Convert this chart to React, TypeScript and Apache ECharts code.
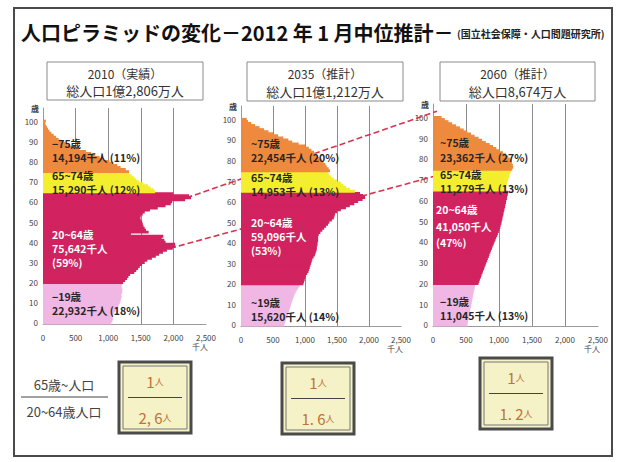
import React, { useEffect, useRef } from "react";
import * as echarts from "echarts";

// ---------- data ----------
const AGES: string[] = Array.from({ length: 107 }, (_, i) => String(i));
const X_TICKS = [0, 500, 1000, 1500, 2000, 2500];

// population by single age (thousand persons), ages 0..100
const POP_2010 = [
  1046, 1063, 1071, 1071, 1063, 1086, 1110, 1129, 1151, 1163, 1177, 1189, 1196, 1206, 1196, 1213, 1215, 1216, 1203, 1213,
  1230, 1260, 1290, 1310, 1336, 1400, 1430, 1460, 1485, 1519, 1560, 1600, 1670, 1730, 1781, 1840, 1900, 1990, 2030, 2026,
  1880, 1860, 1820, 1845, 1349, 1620, 1580, 1560, 1540, 1530, 1520, 1500, 1490, 1500, 1530, 1560, 1640, 1760, 1880, 1960,
  1980, 2180, 2270, 2240, 2000,
  1720, 1700, 1650, 1610, 1540, 1470, 1430, 1400, 1360, 1320,
  1320, 1270, 1190, 1140, 1081, 1020, 930, 870, 800, 736, 660, 560, 480, 410, 343, 290, 240, 200, 165, 129, 100, 78, 60, 42, 30, 44,
];
const POP_2035 = [
  675, 684, 696, 705, 718, 729, 741, 750, 762, 773, 781, 793, 802, 813, 825, 838, 854, 871, 892, 917,
  975, 985, 995, 1005, 1015, 1035, 1055, 1065, 1075, 1085, 1095, 1105, 1115, 1135, 1155, 1165, 1175, 1185, 1185, 1195,
  1195, 1205, 1205, 1205, 1215, 1240, 1270, 1300, 1330, 1360, 1380, 1420, 1450, 1460, 1470, 1500, 1560, 1640, 1700, 1770,
  1830, 1900, 1940, 1910, 1860,
  1780, 1700, 1640, 1600, 1560, 1500, 1450, 1410, 1380, 1360,
  1390, 1370, 1340, 1320, 1290, 1260, 1230, 1200, 1170, 1140, 1100, 1060, 1000, 900, 800, 740, 660, 580, 500, 430, 360, 290, 220, 160, 110, 90,
];
const POP_2060 = [
  520, 526, 531, 539, 544, 550, 557, 562, 568, 575, 580, 586, 593, 598, 604, 611, 617, 625, 632, 640,
  690, 702, 711, 725, 735, 749, 758, 774, 783, 797, 806, 821, 831, 846, 855, 869, 879, 894, 905, 920,
  931, 946, 957, 972, 983, 998, 1006, 1019, 1026, 1036, 1041, 1050, 1055, 1064, 1069, 1078, 1083, 1092, 1097, 1106,
  1110, 1120, 1124, 1134, 1140,
  1105, 1110, 1112, 1120, 1125, 1138, 1146, 1158, 1166, 1180,
  1200, 1215, 1210, 1195, 1180, 1165, 1140, 1105, 1060, 1010, 960, 910, 860, 800, 745, 690, 630, 575, 520, 465, 410, 350, 290, 235, 180, 130,
];

const YEAR_TITLES = ["2010（実績）", "2035（推計）", "2060（推計）"];
const TOTAL_TITLES = ["総人口1億2,806万人", "総人口1億1,212万人", "総人口8,674万人"];

// groups: 75+, 65-74, 20-64, 0-19
const GROUP_NAMES_2010 = ["−75歳", "65~74歳", "20~64歳", "−19歳"];
const GROUP_NAMES_2035 = ["~75歳", "65~74歳", "20~64歳", "~19歳"];
const GROUP_NAMES_2060 = ["~75歳", "65~74歳", "20~64歳", "−19歳"];
const GROUP_TOTALS_2010 = [14194, 15290, 75642, 22932];
const GROUP_TOTALS_2035 = [22454, 14953, 59096, 15620];
const GROUP_TOTALS_2060 = [23362, 11279, 41050, 11045];
const GROUP_SHARES_2010 = [11, 12, 59, 18];
const GROUP_SHARES_2035 = [20, 13, 53, 14];
const GROUP_SHARES_2060 = [27, 13, 47, 13];

const RATIO_NUMERATOR = ["1", "1", "1"];
const RATIO_DENOMINATOR = ["2, 6", "1. 6", "1. 2"];

// cohort connectors: [population, age] in first panel -> [population, age] in last panel
const COHORT_FROM = [[2200, 62], [1950, 37]];
const COHORT_TO = [[60, 103], [60, 72]];

// ---------- styles / layout ----------
const FONT = '"Noto Sans CJK JP", "Noto Sans", sans-serif';
const C_OLD2 = "#ee8a3e";
const C_OLD1 = "#f3ee2e";
const C_WORK = "#d1235f";
const C_YOUNG = "#f0b6e4";

const GRIDS = [
  { left: 43, top: 108, width: 163, height: 216 },
  { left: 241, top: 106, width: 160, height: 220 },
  { left: 433, top: 104, width: 165, height: 222 },
];

const colorFor = (age: number) => (age >= 75 ? C_OLD2 : age >= 65 ? C_OLD1 : age >= 20 ? C_WORK : C_YOUNG);
const fmt = (v: number) => v.toLocaleString("en-US");

const TEXT_POS = [
  { x: [52, 52, 52, 52], y: [143, 157, 175, 189, 234, 248, 262, 296, 310] },
  { x: [251, 251, 251, 251], y: [143, 157, 177, 191, 222, 236, 250, 302, 316] },
  { x: [440, 440, 436, 440], y: [142, 157, 174, 188, 209, 226, 242, 301, 315] },
];
const TITLE_BOXES = [
  { x: 47, y: 62, w: 156, h: 38 },
  { x: 247, y: 62, w: 156, h: 39 },
  { x: 440, y: 62, w: 155, h: 39 },
];
const RATIO_BOXES = [
  { x: 119, y: 362, w: 72, h: 71 },
  { x: 282, y: 363, w: 72, h: 71 },
  { x: 480, y: 358, w: 72, h: 71 },
];

function txt(x: number, y: number, text: string, opts: any = {}) {
  return {
    type: "text",
    x,
    y,
    z: 20,
    silent: true,
    style: {
      text,
      font: `${opts.weight || "bold"} ${opts.size || 10.5}px ${FONT}`,
      fill: opts.color || "#262626",
      align: opts.align || "left",
      verticalAlign: "middle",
    },
  };
}

function buildStaticGraphics() {
  const g: any[] = [];
  // outer frame
  g.push({ type: "rect", z: 0, silent: true, shape: { x: 14, y: 8, width: 598, height: 448 }, style: { fill: "none", stroke: "#4a4a4a", lineWidth: 2 } });
  // title
  g.push(txt(21, 32, "人口ピラミッドの変化－2012 年 1 月中位推計－", { size: 20, color: "#111" }));
  g.push(txt(457, 33, "(国立社会保障・人口問題研究所)", { size: 10, color: "#222" }));

  // panel title boxes
  TITLE_BOXES.forEach((b, i) => {
    g.push({ type: "rect", z: 5, silent: true, shape: { x: b.x, y: b.y, width: b.w, height: b.h }, style: { fill: "#fff", stroke: "#8a8a8a", lineWidth: 1 } });
    g.push(txt(b.x + b.w / 2, b.y + 11, YEAR_TITLES[i], { weight: "normal", size: 12, color: "#333", align: "center" }));
    g.push(txt(b.x + b.w / 2, b.y + b.h - 10, TOTAL_TITLES[i], { weight: "normal", size: 13, color: "#333", align: "center" }));
  });

  // group annotations
  const names = [GROUP_NAMES_2010, GROUP_NAMES_2035, GROUP_NAMES_2060];
  const totals = [GROUP_TOTALS_2010, GROUP_TOTALS_2035, GROUP_TOTALS_2060];
  const shares = [GROUP_SHARES_2010, GROUP_SHARES_2035, GROUP_SHARES_2060];
  TEXT_POS.forEach((p, i) => {
    const n = names[i], t = totals[i], s = shares[i];
    g.push(txt(p.x[0], p.y[0], n[0]));
    g.push(txt(p.x[0], p.y[1], `${fmt(t[0])}千人 (${s[0]}%)`));
    g.push(txt(p.x[1], p.y[2], n[1]));
    g.push(txt(p.x[1], p.y[3], `${fmt(t[1])}千人 (${s[1]}%)`));
    g.push(txt(p.x[2], p.y[4], n[2], { color: "#fff" }));
    g.push(txt(p.x[2], p.y[5], `${fmt(t[2])}千人`, { color: "#fff" }));
    g.push(txt(p.x[2], p.y[6], `(${s[2]}%)`, { color: "#fff" }));
    g.push(txt(p.x[3], p.y[7], n[3]));
    g.push(txt(p.x[3], p.y[8], `${fmt(t[3])}千人 (${s[3]}%)`));
  });

  // ratio legend
  g.push(txt(64, 384, "65歳~人口", { weight: "normal", size: 13, color: "#444", align: "center" }));
  g.push({ type: "line", z: 5, silent: true, shape: { x1: 21, y1: 397, x2: 108, y2: 397 }, style: { stroke: "#444", lineWidth: 1.2 } });
  g.push(txt(64, 411, "20~64歳人口", { weight: "normal", size: 13, color: "#444", align: "center" }));

  RATIO_BOXES.forEach((b, i) => {
    g.push({ type: "rect", z: 5, silent: true, shape: { x: b.x, y: b.y, width: b.w, height: b.h }, style: { fill: "#f4f2c6", stroke: "#4a4a4a", lineWidth: 3 } });
    g.push({ type: "rect", z: 6, silent: true, shape: { x: b.x + 4, y: b.y + 4, width: b.w - 8, height: b.h - 8 }, style: { fill: "none", stroke: "#777", lineWidth: 1 } });
    g.push({ type: "line", z: 6, silent: true, shape: { x1: b.x + 9, y1: b.y + b.h / 2, x2: b.x + b.w - 9, y2: b.y + b.h / 2 }, style: { stroke: "#444", lineWidth: 1.2 } });
    const rich = {
      n: { fontSize: 15, fontFamily: FONT, fill: "#c0723a", color: "#c0723a" },
      u: { fontSize: 9, fontFamily: FONT, fill: "#c0723a", color: "#c0723a" },
    };
    g.push({ type: "text", z: 20, silent: true, x: b.x + b.w / 2, y: b.y + 19, style: { text: `{n|${RATIO_NUMERATOR[i]}}{u|人}`, rich, align: "center", verticalAlign: "middle" } });
    g.push({ type: "text", z: 20, silent: true, x: b.x + b.w / 2, y: b.y + b.h - 16, style: { text: `{n|${RATIO_DENOMINATOR[i]}}{u|人}`, rich, align: "center", verticalAlign: "middle" } });
  });
  return g;
}

function renderAgeBar(params: any, api: any) {
  const v = api.value(0);
  const age = api.value(1);
  const p0 = api.coord([0, age]);
  const p1 = api.coord([v, age]);
  const h = api.size([0, 1])[1];
  return {
    type: "rect",
    shape: { x: p0[0], y: p0[1] - h / 2 - 0.45, width: p1[0] - p0[0], height: h + 0.9 },
    style: { fill: colorFor(age) },
  };
}

function buildOption(): any {
  const pops = [POP_2010, POP_2035, POP_2060];
  return {
    animation: false,
    backgroundColor: "#fff",
    textStyle: { fontFamily: FONT },
    grid: GRIDS.map((g) => ({ ...g, containLabel: false })),
    xAxis: GRIDS.map((_, i) => ({
      type: "value",
      gridIndex: i,
      min: X_TICKS[0],
      max: X_TICKS[X_TICKS.length - 1],
      interval: X_TICKS[1] - X_TICKS[0],
      axisLine: { show: true, lineStyle: { color: "#9a9a9a", width: 1 } },
      axisTick: { show: false },
      splitLine: { show: true, showMinLine: false, showMaxLine: false, lineStyle: { color: "#8c8c8c", width: 1 } },
      axisLabel: { fontSize: 8, color: "#444", margin: 9, formatter: (v: number) => fmt(v), showMaxLabel: true, showMinLabel: true },
      name: "千人",
      nameLocation: "end",
      nameGap: -6,
      nameTextStyle: { fontSize: 8, color: "#444", align: "center", verticalAlign: "top", padding: [19, 0, 0, 0] },
    })),
    yAxis: GRIDS.map((_, i) => ({
      type: "category",
      gridIndex: i,
      data: AGES,
      axisLine: { show: true, lineStyle: { color: "#9a9a9a", width: 1 } },
      axisTick: { show: false },
      splitLine: { show: false },
      axisLabel: { interval: 9, fontSize: 8, color: "#444", margin: 5 },
      name: "歳",
      nameLocation: "end",
      nameGap: 0,
      nameTextStyle: { fontSize: 8, fontWeight: "bold", color: "#333", align: "right", verticalAlign: "middle", padding: [0, 4, 0, 0] },
    })),
    series: pops.map((pop, i) => ({
      type: "custom",
      coordinateSystem: "cartesian2d",
      xAxisIndex: i,
      yAxisIndex: i,
      silent: true,
      z: 2,
      encode: { x: 0, y: 1 },
      renderItem: renderAgeBar,
      data: pop.map((v, age) => [v, age]),
    })),
  };
}

export default function App() {
  const ref = useRef<HTMLDivElement>(null);
  useEffect(() => {
    if (!ref.current) return;
    const chart = echarts.init(ref.current, null, { renderer: "svg" });
    chart.setOption(buildOption());
    const lines = COHORT_FROM.map((from, k) => {
      const a = chart.convertToPixel({ gridIndex: 0 }, from) as number[];
      const b = chart.convertToPixel({ gridIndex: 2 }, COHORT_TO[k]) as number[];
      return {
        type: "line",
        z: 1,
        silent: true,
        shape: { x1: a[0], y1: a[1], x2: b[0], y2: b[1] },
        style: { stroke: "#d8344f", lineWidth: 1.6, lineDash: [6, 3] },
      };
    });
    chart.setOption({ graphic: { elements: [...buildStaticGraphics(), ...lines] } });
    return () => chart.dispose();
  }, []);
  return <div ref={ref} style={{ position: "fixed", left: 0, top: 0, width: 620, height: 462, background: "#fff" }} />;
}
